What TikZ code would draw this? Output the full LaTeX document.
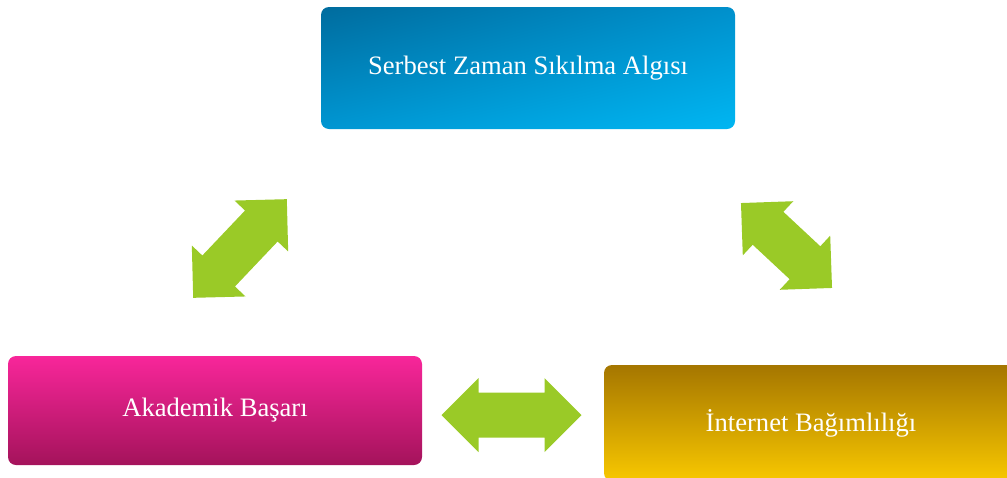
\documentclass[tikz,border=0pt]{standalone}
\usepackage{fontspec}
\setmainfont{Liberation Serif}
\usetikzlibrary{shadings}
\definecolor{blueA}{HTML}{006C9E}
\definecolor{blueB}{HTML}{0090CC}
\definecolor{blueC}{HTML}{0096D2}
\definecolor{blueD}{HTML}{00B6F2}
\definecolor{pinkTop}{HTML}{F8269A}
\definecolor{pinkBot}{HTML}{A4135B}
\definecolor{goldTop}{HTML}{A57600}
\definecolor{goldBot}{HTML}{F8C800}
\definecolor{arrowgreen}{HTML}{9ACA27}
\tikzset{
  box/.style={rectangle, rounded corners=8pt, minimum width=414pt, text=white,
    font=\fontsize{26.6}{30}\selectfont, inner sep=0pt},
  arrowfill/.style={fill=arrowgreen}
}
\newcommand\dblarrow[4]{%
  \fill[arrowfill, shift={(#1,#2)}, rotate=#3]
    ({-#4},0) -- ({-#4+37},-37) -- ({-#4+37},-22.5) -- ({#4-37},-22.5) -- ({#4-37},-37)
    -- ({#4},0) -- ({#4-37},37) -- ({#4-37},22.5) -- ({-#4+37},22.5) -- ({-#4+37},37) -- cycle;}
\begin{document}
\begin{tikzpicture}[x=1pt,y=-1pt]
\useasboundingbox (0,0) rectangle (1007,477);
\clip (0,0) rectangle (1007,477);
\node[box, minimum height=122pt, upper left=blueA, upper right=blueB, lower left=blueC, lower right=blueD] (sz) at (528,68) {Serbest Zaman Sıkılma Algısı};
\node[box, minimum height=109pt, top color=pinkTop, bottom color=pinkBot] (ab) at (215,410.5) {Akademik Başarı};
\node[box, minimum height=116pt, top color=goldTop, bottom color=goldBot] (ib) at (811,423) {İnternet Bağımlılığı};
\dblarrow{240}{248.5}{46.5}{68}
\dblarrow{786.5}{245.5}{-43}{62.25}
\dblarrow{511.5}{415}{0}{70}
\end{tikzpicture}
\end{document}
